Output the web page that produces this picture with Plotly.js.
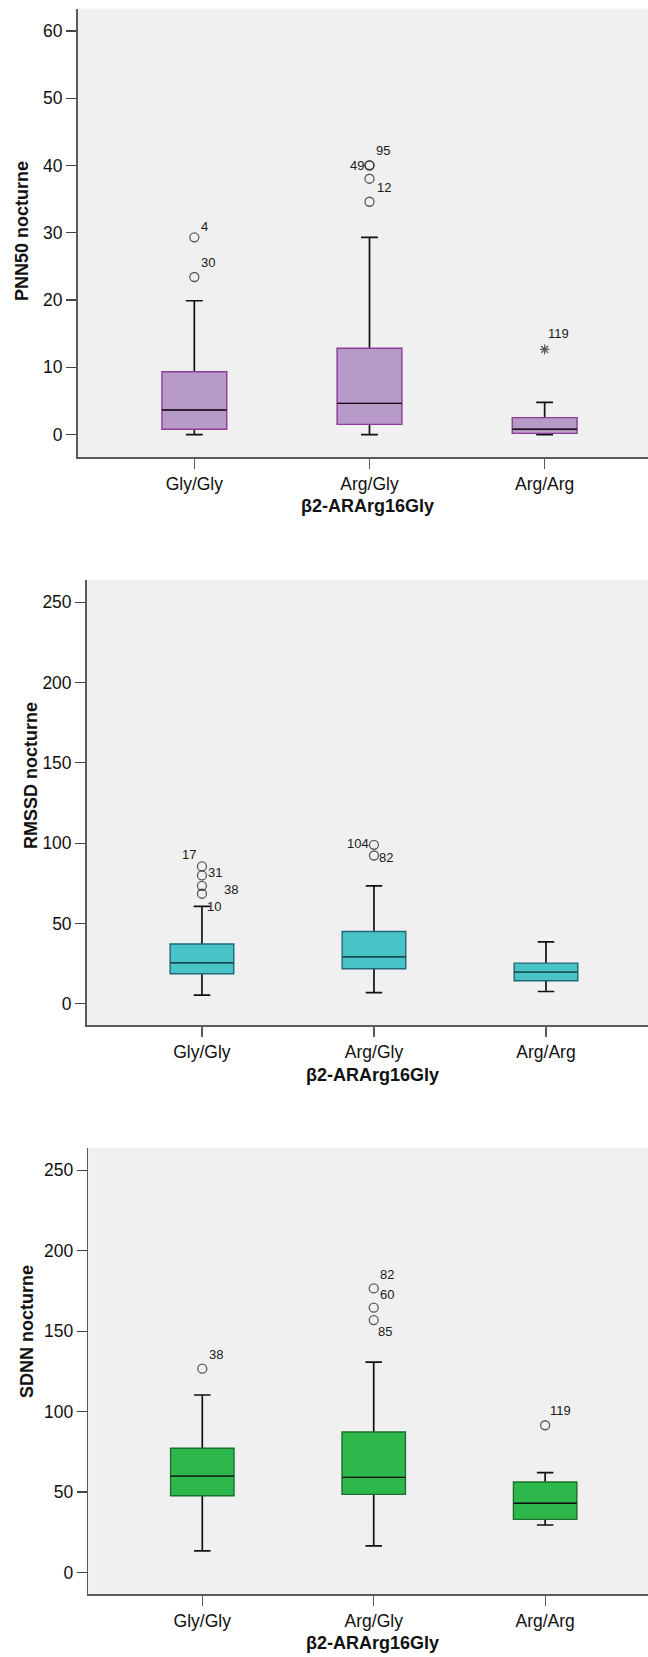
<!DOCTYPE html>
<html>
<head>
<meta charset="utf-8">
<script src="https://cdn.plot.ly/plotly-3.0.1.min.js"></script>
<style>html,body{margin:0;padding:0;background:#fff;}#chart{width:648px;height:1657px;}</style>
</head>
<body>
<div id="chart"></div>
<script>
// ---------- data ----------
const categories = ['Gly/Gly', 'Arg/Gly', 'Arg/Arg'];
const xTitle = 'β2-ARArg16Gly';

// PNN50 nocturne
const pnnLower  = [0.0, 0.0, 0.0];
const pnnQ1     = [0.79, 1.53, 0.18];
const pnnMedian = [3.66, 4.65, 0.79];
const pnnQ3     = [9.35, 12.83, 2.53];
const pnnUpper  = [19.9, 29.33, 4.79];
const pnnOutCat   = [0, 0, 1, 1, 1, 1, 2];
const pnnOutVal   = [29.33, 23.43, 40.07, 40.0, 38.04, 34.62, 12.68];
const pnnOutLabel = ['4', '30', '95', '49', '12', '', '119'];
const pnnOutKind  = ['o', 'o', 'o', 'o', 'o', 'o', '*'];

// RMSSD nocturne
const rmLower  = [5.4, 7.0, 7.65];
const rmQ1     = [18.7, 21.8, 14.3];
const rmMedian = [25.5, 29.3, 19.7];
const rmQ3     = [37.2, 45.0, 25.3];
const rmUpper  = [60.6, 73.4, 38.5];
const rmOutCat   = [0, 0, 0, 0, 1, 1];
const rmOutVal   = [85.5, 79.9, 73.4, 68.5, 98.95, 92.3];
const rmOutLabel = ['17', '31', '38', '10', '104', '82'];
const rmOutKind  = ['o', 'o', 'o', 'o', 'o', 'o'];

// SDNN nocturne
const sdLower  = [13.4, 16.5, 29.5];
const sdQ1     = [47.7, 48.5, 33.0];
const sdMedian = [59.9, 59.1, 43.0];
const sdQ3     = [77.2, 87.3, 56.2];
const sdUpper  = [110.3, 130.8, 62.0];
const sdOutCat   = [0, 1, 1, 1, 2];
const sdOutVal   = [126.7, 176.6, 164.6, 156.9, 91.5];
const sdOutLabel = ['38', '82', '60', '85', '119'];
const sdOutKind  = ['o', 'o', 'o', 'o', 'o'];

// ---------- styles / positions ----------
const W = 648, H = 1657;
const FONT = 'Liberation Sans, Arial, sans-serif';
const pnnLabelOffset = [[10.5,-11],[13.7,-14.3],[13.7,-14.3],[-12.3,0],[14.3,9],[0,0],[14,-15.5]];
const rmLabelOffset  = [[-12.7,-12.4],[13.3,-3],[29,4],[12.3,12.7],[-16,-1.7],[12.3,1.6]];
const sdLabelOffset  = [[13.3,-14.4],[13,-14],[13,-13.4],[11.7,11.7],[15.7,-15]];

const panels = [
  {ax: '', lower: pnnLower, q1: pnnQ1, med: pnnMedian, q3: pnnQ3, up: pnnUpper,
   oc: pnnOutCat, ov: pnnOutVal, ol: pnnOutLabel, ok: pnnOutKind, off: pnnLabelOffset,
   fill: '#B89AC8', border: '#8D3B98', medColor: '#111111',
   ytitle: 'PNN50 nocturne', yrange: [-3.37, 63.33], ytick: [0,10,20,30,40,50,60],
   left: 77.5, top: 8.6, bottom: 457.3, xr: [-0.667, 2.59],
   ytx: 22, yty: 231, xtx: 367, xty: 506},
  {ax: '2', lower: rmLower, q1: rmQ1, med: rmMedian, q3: rmQ3, up: rmUpper,
   oc: rmOutCat, ov: rmOutVal, ol: rmOutLabel, ok: rmOutKind, off: rmLabelOffset,
   fill: '#48C3C6', border: '#1F6878', medColor: '#1B4A50',
   ytitle: 'RMSSD nocturne', yrange: [-13.4, 263.8], ytick: [0,50,100,150,200,250],
   left: 86.7, top: 580.0, bottom: 1025.3, xr: [-0.670, 2.593],
   ytx: 31, yty: 776, xtx: 372, xty: 1075},
  {ax: '3', lower: sdLower, q1: sdQ1, med: sdMedian, q3: sdQ3, up: sdUpper,
   oc: sdOutCat, ov: sdOutVal, ol: sdOutLabel, ok: sdOutKind, off: sdLabelOffset,
   fill: '#2EB84C', border: '#1D6E31', medColor: '#111111',
   ytitle: 'SDNN nocturne', yrange: [-13.6, 263.7], ytick: [0,50,100,150,200,250],
   left: 88.3, top: 1148.3, bottom: 1594.3, xr: [-0.665, 2.60],
   ytx: 27, yty: 1332, xtx: 372, xty: 1643}
];

const BOXW = 0.37;
const xs = categories.map((c, i) => i);
const traces = [];
const annotations = [];
const layout = {
  width: W, height: H,
  margin: {l: 0, r: 0, t: 0, b: 0},
  paper_bgcolor: '#ffffff', plot_bgcolor: '#F0F0F0',
  boxmode: 'overlay', showlegend: false,
  font: {family: FONT, color: '#111'},
  annotations: annotations
};

panels.forEach(p => {
  const xa = 'x' + p.ax, ya = 'y' + p.ax;
  // whiskers (black)
  traces.push({type: 'box', xaxis: xa, yaxis: ya, x: xs,
    q1: p.med, median: p.med, q3: p.med, lowerfence: p.lower, upperfence: p.up,
    width: BOXW, whiskerwidth: 0.26, fillcolor: 'rgba(0,0,0,0)',
    line: {color: '#111111', width: 1.7}, boxpoints: false, hoverinfo: 'skip'});
  // box body
  traces.push({type: 'box', xaxis: xa, yaxis: ya, x: xs,
    q1: p.q1, median: p.med, q3: p.q3, lowerfence: p.q1, upperfence: p.q3,
    width: BOXW, whiskerwidth: 0, fillcolor: p.fill,
    line: {color: p.border, width: 1.4}, boxpoints: false, hoverinfo: 'skip'});
  // median line
  traces.push({type: 'box', xaxis: xa, yaxis: ya, x: xs,
    q1: p.med, median: p.med, q3: p.med, lowerfence: p.med, upperfence: p.med,
    width: BOXW, whiskerwidth: 0, fillcolor: 'rgba(0,0,0,0)',
    line: {color: p.medColor, width: 1.4}, boxpoints: false, hoverinfo: 'skip'});
  // outliers
  traces.push({type: 'scatter', mode: 'markers', xaxis: xa, yaxis: ya,
    x: p.oc, y: p.ov, hoverinfo: 'skip',
    marker: {symbol: p.ok.map(k => k === '*' ? 'asterisk-open' : 'circle-open'),
             size: p.ok.map(k => k === '*' ? 8 : 9),
             color: '#1a1a1a', line: {color: '#1a1a1a', width: 1.3}}});
  p.ol.forEach((lab, i) => {
    if (!lab) return;
    annotations.push({xref: xa, yref: ya, x: p.oc[i], y: p.ov[i], text: lab,
      showarrow: false, xanchor: 'center', yanchor: 'middle',
      xshift: p.off[i][0], yshift: -p.off[i][1],
      font: {family: FONT, size: 13, color: '#1a1a1a'}});
  });
  // axes
  layout['xaxis' + p.ax] = {
    domain: [p.left / W, 1], anchor: ya, range: p.xr,
    tickmode: 'array', tickvals: xs, ticktext: categories,
    showgrid: false, zeroline: false, showline: true, linecolor: '#5a5a5a', linewidth: 1.6,
    ticks: 'outside', ticklen: 10, tickwidth: 1.2, tickcolor: '#5a5a5a',
    tickfont: {family: FONT, size: 17.5, color: '#111'}, fixedrange: true
  };
  layout['yaxis' + p.ax] = {
    domain: [1 - p.bottom / H, 1 - p.top / H], anchor: xa, range: p.yrange,
    tickmode: 'array', tickvals: p.ytick,
    showgrid: false, zeroline: false, showline: true, linecolor: '#5a5a5a', linewidth: 1.6,
    ticks: 'outside', ticklen: 10, tickwidth: 1.2, tickcolor: '#444',
    tickfont: {family: FONT, size: 17.5, color: '#111'}, fixedrange: true
  };
  annotations.push({xref: 'paper', yref: 'paper', x: p.ytx / W, y: 1 - p.yty / H,
    text: '<b>' + p.ytitle + '</b>', textangle: -90, showarrow: false,
    xanchor: 'center', yanchor: 'middle', font: {family: FONT, size: 18, color: '#111'}});
  annotations.push({xref: 'paper', yref: 'paper', x: p.xtx / W, y: 1 - p.xty / H,
    text: '<b>' + xTitle + '</b>', showarrow: false,
    xanchor: 'center', yanchor: 'middle', font: {family: FONT, size: 18, color: '#111'}});
});

Plotly.newPlot('chart', traces, layout, {displayModeBar: false, staticPlot: true});
</script>
</body>
</html>
